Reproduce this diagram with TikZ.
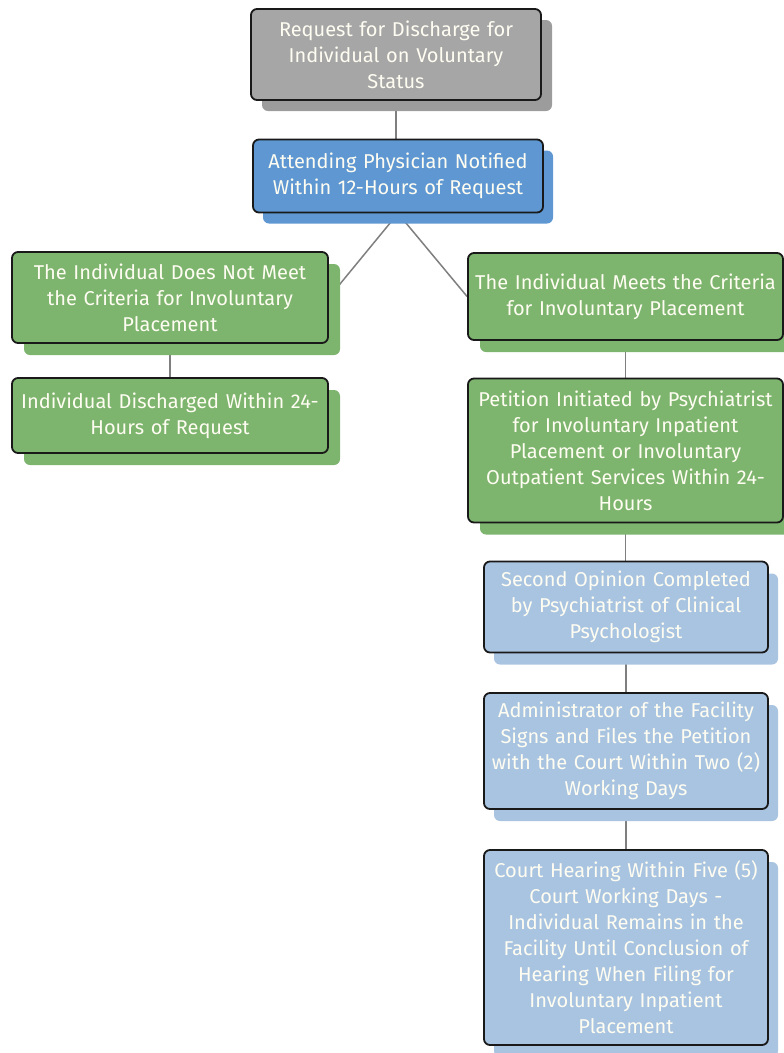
\documentclass[tikz,border=0pt]{standalone}
\usepackage{fontspec}
\setmainfont{Fira Sans}
\usetikzlibrary{shadows,backgrounds}
\definecolor{boxgray}{HTML}{A6A6A6}
\definecolor{shgray}{HTML}{9C9C9C}
\definecolor{boxblue}{HTML}{5E97D1}
\definecolor{boxgreen}{HTML}{7DB46E}
\definecolor{boxlight}{HTML}{A9C4E0}
\definecolor{linegray}{HTML}{7F7F7F}
\definecolor{txt}{HTML}{FFFDF2}
\tikzset{
  flowbox/.style={draw=black!90, line width=1.8pt, rounded corners=6pt, align=center,
    text=txt, inner sep=0pt, font=\fontsize{20}{26}\selectfont},
  grayb/.style={flowbox, fill=boxgray, drop shadow={shadow xshift=11pt, shadow yshift=-11pt, fill=shgray, opacity=1}},
  blueb/.style={flowbox, fill=boxblue, drop shadow={shadow xshift=10pt, shadow yshift=-11pt, fill=boxblue, opacity=1}},
  greenb/.style={flowbox, fill=boxgreen, drop shadow={shadow xshift=12pt, shadow yshift=-12pt, fill=boxgreen, opacity=1}},
  lightb/.style={flowbox, fill=boxlight, drop shadow={shadow xshift=10pt, shadow yshift=-12pt, fill=boxlight, opacity=1}},
  conn/.style={draw=linegray, line width=1.5pt}
}
\begin{document}
\begin{tikzpicture}[x=1pt,y=-1pt]
\useasboundingbox (0,0) rectangle (784,1053);
\node[grayb, minimum width=290pt, minimum height=91pt, text width=288pt] (req) at (396,54.5)
  {Request for Discharge for\\Individual on Voluntary\\Status};
\node[blueb, minimum width=290pt, minimum height=73pt, text width=288pt] (att) at (398,176)
  {Attending Physician Notified\\Within 12-Hours of Request};
\node[greenb, minimum width=316pt, minimum height=91pt, text width=314pt] (notmeet) at (170,297.5)
  {The Individual Does Not Meet\\the Criteria for Involuntary\\Placement};
\node[greenb, minimum width=316pt, minimum height=75pt, text width=314pt] (disch) at (170,415.5)
  {Individual Discharged Within 24-\\Hours of Request};
\node[greenb, minimum width=315pt, minimum height=87pt, text width=313pt] (meet) at (625.5,296.5)
  {The Individual Meets the Criteria\\for Involuntary Placement};
\node[greenb, minimum width=315pt, minimum height=144pt, text width=313pt] (pet) at (625.5,450.5)
  {Petition Initiated by Psychiatrist\\for Involuntary Inpatient\\Placement or Involuntary\\Outpatient Services Within 24-\\Hours};
\node[lightb, minimum width=284pt, minimum height=91pt, text width=282pt] (sec) at (626,607)
  {Second Opinion Completed\\by Psychiatrist of Clinical\\Psychologist};
\node[lightb, minimum width=284pt, minimum height=116pt, text width=282pt] (adm) at (626,751)
  {Administrator of the Facility\\Signs and Files the Petition\\with the Court Within Two (2)\\Working Days};
\node[lightb, minimum width=284pt, minimum height=195pt, text width=282pt] (court) at (626,947.5)
  {Court Hearing Within Five (5)\\Court Working Days -\\Individual Remains in the\\Facility Until Conclusion of\\Hearing When Filing for\\Involuntary Inpatient\\Placement};
\begin{scope}[on background layer]
\draw[conn] (req.south) -- (req.south |- att.north);
\draw[conn] (att.south) -- (notmeet.east);
\draw[conn] (att.south) -- (meet.west);
\draw[conn] (notmeet) -- (disch);
\draw[conn] (meet) -- (pet);
\draw[conn] (pet) -- (pet |- sec.north);
\draw[conn] (sec) -- (sec |- adm.north);
\draw[conn] (adm) -- (adm |- court.north);
\end{scope}
\end{tikzpicture}
\end{document}
